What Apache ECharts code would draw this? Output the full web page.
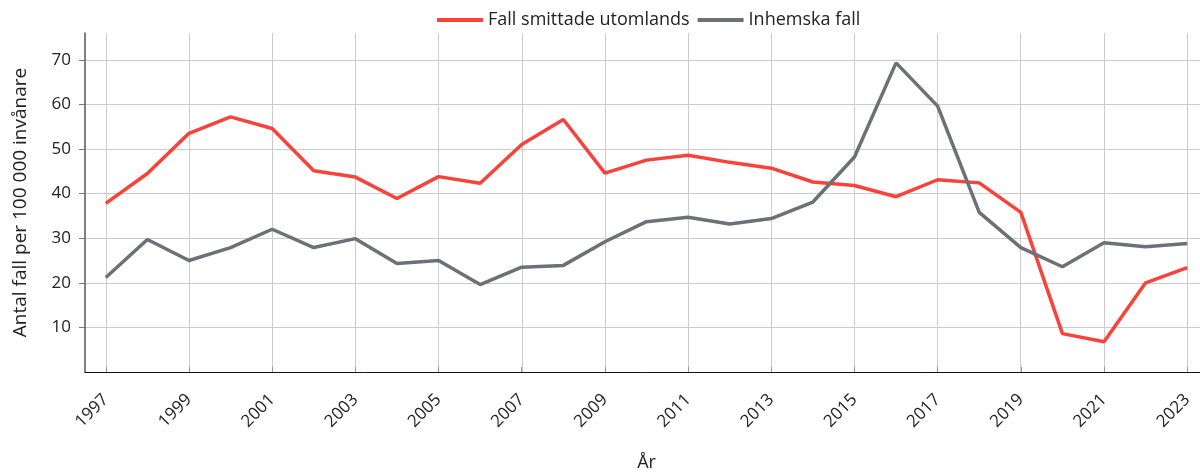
<!DOCTYPE html>
<html>
<head>
<meta charset="utf-8">
<script src="https://cdn.jsdelivr.net/npm/echarts@6/dist/echarts.min.js"></script>
<style>
html,body{margin:0;padding:0;background:#fff;}
#chart{width:1200px;height:472px;}
</style>
</head>
<body>
<div id="chart"></div>
<script>
const years = [1997,1998,1999,2000,2001,2002,2003,2004,2005,2006,2007,2008,2009,2010,2011,2012,2013,2014,2015,2016,2017,2018,2019,2020,2021,2022,2023];
const utomlands = [37.8,44.5,53.5,57.2,54.6,45.1,43.7,38.9,43.8,42.3,51.0,56.6,44.6,47.5,48.6,47.0,45.7,42.6,41.8,39.3,43.1,42.4,35.8,8.6,6.8,20.0,23.4];
const inhemska = [21.2,29.7,25.0,27.9,32.0,27.9,29.9,24.3,25.0,19.6,23.5,23.9,29.2,33.7,34.7,33.2,34.4,38.1,48.2,69.3,59.6,35.8,27.9,23.6,29.0,28.1,28.8];
const xTicks = [1997,1999,2001,2003,2005,2007,2009,2011,2013,2015,2017,2019,2021,2023];
const yTicks = [10,20,30,40,50,60,70];
const seriesNames = ['Fall smittade utomlands','Inhemska fall'];
const yAxisTitle = 'Antal fall per 100 000 invånare';
const xAxisTitle = 'År';

const font = '"Open Sans", Lato, sans-serif';
const chart = echarts.init(document.getElementById('chart'), null, {renderer:'canvas'});
chart.setOption({
  animation:false,
  textStyle:{fontFamily:font},
  legend:{
    top:6, left:432,
    icon:'rect', itemWidth:46, itemHeight:4, itemGap:8,
    textStyle:{fontSize:18, color:'#222', fontFamily:font},
    data:seriesNames
  },
  grid:[
    {left:85, right:-8, top:33, bottom:100, containLabel:false, outerBoundsMode:'none'},
    {left:106, right:13, top:33, bottom:100, containLabel:false, outerBoundsMode:'none'}
  ],
  xAxis:[{
    gridIndex:0, type:'value', min:1996.5, max:2023.5,
    name:xAxisTitle, nameLocation:'middle', nameGap:82,
    nameTextStyle:{fontSize:18, color:'#222', fontFamily:font},
    axisLine:{show:true, onZero:false, lineStyle:{color:'#111', width:1}},
    axisTick:{show:true, inside:true, length:5, customValues:xTicks, lineStyle:{color:'#999'}},
    axisLabel:{customValues:xTicks, rotate:45, fontSize:17, color:'#222', margin:25, fontFamily:font, formatter:v=>String(v)},
    splitLine:{show:false}
  },{
    gridIndex:1, type:'value', min:1997, max:2023, interval:2,
    axisLine:{show:false}, axisTick:{show:false}, axisLabel:{show:false},
    splitLine:{show:true, lineStyle:{color:'#cccccc', width:1}}
  }],
  yAxis:[{
    gridIndex:0, type:'value', min:0, max:76,
    name:yAxisTitle, nameLocation:'middle', nameGap:55,
    nameTextStyle:{fontSize:19, color:'#222', fontFamily:font},
    axisLine:{show:true, lineStyle:{color:'#555', width:1.5}},
    axisTick:{show:true, length:6, customValues:yTicks, lineStyle:{color:'#777'}},
    axisLabel:{customValues:yTicks, fontSize:17, color:'#222', margin:14, fontFamily:font},
    splitLine:{show:true, lineStyle:{color:'#cccccc', width:1}}
  },{
    gridIndex:1, type:'value', min:0, max:76,
    axisLine:{show:false}, axisTick:{show:false}, axisLabel:{show:false}, splitLine:{show:false}
  }],
  series:[
    {name:seriesNames[0], type:'line', xAxisIndex:0, yAxisIndex:0, z:3, data:years.map((y,i)=>[y,utomlands[i]]), showSymbol:false, symbol:'none',
     lineStyle:{color:'#f9423a', width:3.5}, itemStyle:{color:'#f9423a'}},
    {name:seriesNames[1], type:'line', xAxisIndex:0, yAxisIndex:0, z:3, data:years.map((y,i)=>[y,inhemska[i]]), showSymbol:false, symbol:'none',
     lineStyle:{color:'#6c7078', width:3.5}, itemStyle:{color:'#6c7078'}}
  ]
});
</script>
</body>
</html>
